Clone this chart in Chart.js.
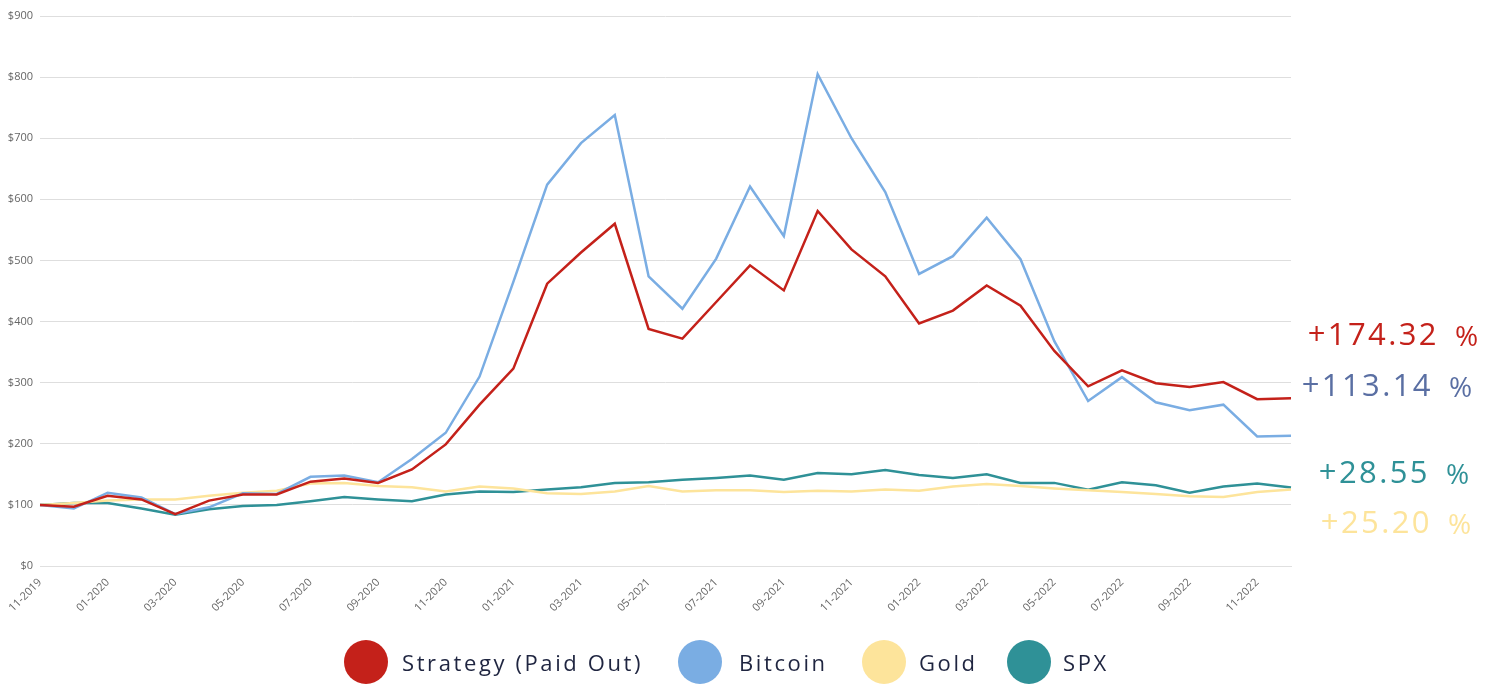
<!DOCTYPE html>
<html>
<head>
<meta charset="utf-8">
<script src="https://cdn.jsdelivr.net/npm/chart.js@4.4.0/dist/chart.umd.min.js"></script>
<style>
  body { margin: 0; background: #fff; }
  #wrap { position: relative; width: 1497px; height: 684px; overflow: hidden; }
  .num { position: absolute; font-family: "Open Sans", sans-serif; font-size: 31px; letter-spacing: 2.4px; white-space: nowrap; line-height: 1; text-align: right; width: 200px; }
  .pc { position: absolute; font-family: "Open Sans", sans-serif; font-size: 28px; white-space: nowrap; line-height: 1; }
  .item { position: absolute; top: 640px; display: flex; align-items: center; height: 44px; font-family: "Open Sans", sans-serif; font-size: 22px; letter-spacing: 2.6px; color: #1f2540; white-space: nowrap; }
  .dot { width: 44px; height: 44px; border-radius: 50%; flex: none; }
</style>
</head>
<body>
<div id="wrap">
  <canvas id="c" width="1497" height="684"></canvas>
</div>
<script>
// monthly values, indexed to $100 at 11-2019
var months = ["11-2019","12-2019","01-2020","02-2020","03-2020","04-2020","05-2020","06-2020","07-2020","08-2020",
  "09-2020","10-2020","11-2020","12-2020","01-2021","02-2021","03-2021","04-2021","05-2021","06-2021",
  "07-2021","08-2021","09-2021","10-2021","11-2021","12-2021","01-2022","02-2022","03-2022","04-2022",
  "05-2022","06-2022","07-2022","08-2022","09-2022","10-2022","11-2022","12-2022"];

var strategy = [100, 97, 115, 109, 85, 107, 117, 117, 138, 143, 136, 158, 199, 264, 323, 462, 513, 560, 388, 372,
  432, 492, 451, 581, 518, 474, 397, 418, 459, 426, 352, 294, 320, 299, 293, 301, 273, 274.32];
var bitcoin = [100, 94, 120, 112, 85, 96, 119, 118, 146, 148, 137, 175, 218, 310, 465, 624, 692, 738, 474, 421,
  503, 621, 540, 805, 700, 612, 478, 507, 570, 502, 368, 270, 309, 268, 255, 264, 212, 213.14];
var gold = [100, 103, 107, 109, 109, 115, 120, 123, 135, 136, 131, 129, 122, 130, 127, 119, 118, 122, 131, 122,
  124, 124, 121, 123, 122, 125, 123, 130, 134, 131, 127, 124, 121, 118, 114, 113, 121, 125.2];
var spx = [100, 103, 103, 94, 84, 93, 98, 100, 106, 113, 109, 106, 117, 122, 121, 125, 129, 136, 137, 141,
  144, 148, 141, 152, 150, 157, 149, 144, 150, 136, 136, 125, 137, 132, 120, 130, 135, 128.55];

var names = ["Strategy (Paid Out)", "Bitcoin", "Gold", "SPX"];
var colors = ["#c4211a", "#7aade3", "#fde49b", "#2f9197"];

// total return labels on the right, top to bottom
var returns = ["+174.32", "+113.14", "+28.55", "+25.20"];
var returnColors = ["#c4211a", "#5a6fa3", "#2f9197", "#fde49b"];
var returnRight = [1437, 1431, 1428, 1430];
var returnTop = [318, 369, 456, 506];

var legendLeft = [344, 678, 862, 1007];
var legendGap = [14, 17, 13, 12];

var series = [strategy, bitcoin, gold, spx];
var datasets = [];
for (var i = 0; i < series.length; i++) {
  datasets.push({
    label: names[i],
    data: series[i],
    borderColor: colors[i],
    backgroundColor: colors[i],
    borderWidth: 2.5,
    pointRadius: 0,
    tension: 0
  });
}

var tickFont = { family: "Open Sans", size: 11 };

var chart = new Chart(document.getElementById("c").getContext("2d"), {
  type: "line",
  data: { labels: months, datasets: datasets },
  options: {
    responsive: false,
    animation: false,
    layout: { padding: { top: 16, right: 206, bottom: 68, left: 0 } },
    plugins: { legend: { display: false }, tooltip: { enabled: false } },
    scales: {
      x: {
        grid: { display: false },
        border: { color: "#e0e0e0" },
        afterFit: function(scale) { scale.height = 50; },
        ticks: {
          autoSkip: false,
          maxRotation: 45,
          minRotation: 45,
          color: "#666",
          font: tickFont,
          padding: 2,
          callback: function(v, i) { return i % 2 === 0 ? months[i] : ""; }
        }
      },
      y: {
        min: 0,
        max: 900,
        grid: { color: "#dedede", drawTicks: false },
        border: { display: false },
        afterFit: function(scale) { scale.width = 40; },
        ticks: {
          stepSize: 100,
          color: "#666",
          font: tickFont,
          padding: 7,
          callback: function(v) { return "$" + v; }
        }
      }
    }
  }
});

var wrap = document.getElementById("wrap");
for (var k = 0; k < returns.length; k++) {
  var n = document.createElement("div");
  n.className = "num";
  n.style.left = (returnRight[k] - 200 + 2) + "px";
  n.style.top = returnTop[k] + "px";
  n.style.color = returnColors[k];
  n.textContent = returns[k];
  wrap.appendChild(n);
  var p = document.createElement("div");
  p.className = "pc";
  p.style.left = (returnRight[k] + 18) + "px";
  p.style.top = (returnTop[k] + 3) + "px";
  p.style.color = returnColors[k];
  p.textContent = "%";
  wrap.appendChild(p);
}

// legend with large dots
for (var j = 0; j < names.length; j++) {
  var item = document.createElement("div");
  item.className = "item";
  item.style.left = legendLeft[j] + "px";
  item.innerHTML = '<div class="dot" style="background:' + colors[j] + ';margin-right:' + legendGap[j] + 'px"></div><span>' + names[j] + '</span>';
  wrap.appendChild(item);
}
</script>
</body>
</html>
